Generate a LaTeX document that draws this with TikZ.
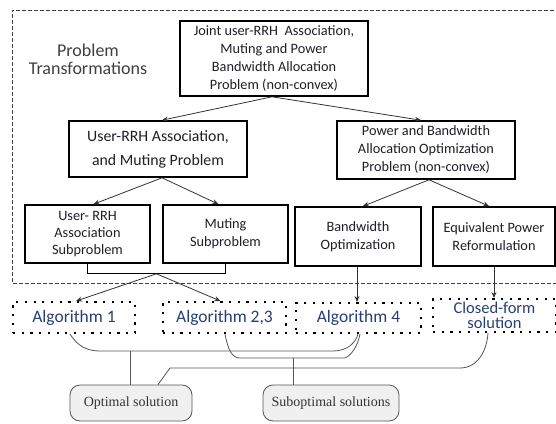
\documentclass[tikz,border=0pt]{standalone}
\usepackage{fontspec}
\setmainfont{Carlito}
\newfontfamily\serifx{Liberation Serif}
\usetikzlibrary{arrows.meta,calc}
\definecolor{txt}{RGB}{30,30,40}
\definecolor{algtxt}{RGB}{40,62,120}
\definecolor{conn}{RGB}{85,85,85}
\definecolor{solfill}{RGB}{240,240,240}
\begin{document}
\begin{tikzpicture}[x=1pt,y=-1pt,
  probbox/.style={draw=black,line width=1.6pt,align=center,text=txt,inner sep=1pt,
     font=\fontsize{14.3}{18}\selectfont},
  algbox/.style={draw=black,line width=1.9pt,dash pattern=on 2.2pt off 6.5pt,align=center,text=algtxt,
     inner sep=1pt,font=\fontsize{17.5}{15}\selectfont},
  solbox/.style={draw=conn,line width=0.8pt,fill=solfill,rounded corners=10pt,align=center,
     font=\serifx\fontsize{14}{16}\selectfont,text=black!80},
  arr/.style={-{Stealth[length=6pt,width=5pt]},line width=0.8pt,draw=black!80},
  cline/.style={draw=conn,line width=0.8pt}]
\useasboundingbox (0,0) rectangle (556,423);
% outer dashed region
\draw[line width=0.8pt,black!75,dash pattern=on 4pt off 2pt] (560,10) -- (12,10) -- (12,283) -- (560,283);
\node[text=black!75,align=center,font=\fontsize{18}{18}\selectfont] (pt) at (88,59) {Problem\\Transformations};
% problem boxes
\node[probbox,minimum width=188pt,minimum height=75pt] (top) at (274,58.5)
  {Joint user-RRH\ \ Association,\\Muting and Power\\Bandwidth Allocation\\Problem (non-convex)};
\node[probbox,minimum width=178pt,minimum height=56pt,font=\fontsize{15.8}{24}\selectfont] (b2) at (158,149)
  {User-RRH Association,\\and Muting Problem};
\node[probbox,minimum width=178pt,minimum height=58pt] (b3) at (426,150)
  {Power and Bandwidth\\Allocation Optimization\\Problem (non-convex)};
\node[probbox,minimum width=125pt,minimum height=58pt,font=\fontsize{14.3}{17}\selectfont] (s1) at (87.5,234)
  {User- RRH\\Association\\Subproblem};
\node[probbox,minimum width=125pt,minimum height=58pt] (s2) at (225.5,234)
  {Muting\\Subproblem};
\node[probbox,minimum width=126pt,minimum height=59pt] (bw) at (358,236.5)
  {Bandwidth\\Optimization};
\node[probbox,minimum width=122pt,minimum height=59pt] (eq) at (494,236.5)
  {Equivalent Power\\Reformulation};
% algorithm boxes
\node[algbox,minimum width=122pt,minimum height=31pt] (a1) at (74,317.5) {Algorithm 1};
\node[algbox,minimum width=123pt,minimum height=31pt] (a23) at (224.5,317.5) {Algorithm 2,3};
\node[algbox,minimum width=125pt,minimum height=30pt] (a4) at (358.5,318) {Algorithm 4};
\node[algbox,minimum width=123pt,minimum height=33pt,inner sep=0pt,font=\fontsize{16.5}{15}\selectfont] (cf) at (494.5,315.5) {Closed-form\\solution};
% solutions
\node[solbox,minimum width=122pt,minimum height=36pt] (opt) at (131,403) {Optimal solution};
\node[solbox,minimum width=136pt,minimum height=36pt] (sub) at (331,403) {Suboptimal solutions};
% arrows in transformation region
\draw[arr] ([xshift=-2pt]top.south) -- ([xshift=4pt]b2.north);
\draw[arr] ([xshift=-2pt]top.south) -- ([xshift=-5pt]b3.north);
\draw[arr] ([xshift=4pt]b2.south) -- ([xshift=6pt]s1.north);
\draw[arr] ([xshift=4pt]b2.south) -- ([xshift=-7pt]s2.north);
\draw[arr] ([xshift=3pt]b3.south) -- ([xshift=5pt]bw.north);
\draw[arr] ([xshift=3pt]b3.south) -- ([xshift=-5pt]eq.north);
% bracket
\draw[line width=0.8pt] (s1.south) -- ++(0,10) coordinate (bl) -| (s2.south);
\coordinate (br) at ($(bl)!0.5!(bl -| s2.south)$);
\draw[arr] (br) -- ([xshift=2pt]a1.north);
\draw[arr] (br) -- ([xshift=-4pt]a23.north);
\draw[arr] ([xshift=-1pt]bw.south) -- ([xshift=-1.5pt]a4.north);
\draw[arr] (eq.south) -- ([xshift=-0.5pt]cf.north);
% bottom connectors
\coordinate (j1) at (130,351);
\coordinate (j2) at (293,358);
\draw[cline] ([xshift=-4pt]a1.south) .. controls (78,347) and (88,351) .. (100,351)
  -- (333,351) .. controls (348,351) and (356,342) .. ([xshift=-0.5pt]a4.south);
\draw[cline] ([xshift=0.5pt]a23.south) .. controls (228,350) and (232,358) .. (240,358)
  -- (345,358) .. controls (352,355) and (358,345) .. ([xshift=1.5pt]a4.south);
\draw[cline] (j1) -- (j1 |- opt.north);
\draw[cline] (j2) -- (j2 |- sub.north);
\draw[cline] ([xshift=27pt]opt.north) -- (170,368) -- (460,368)
  .. controls (478,368) and (487,350) .. ([xshift=-6.5pt]cf.south);
\end{tikzpicture}
\end{document}
